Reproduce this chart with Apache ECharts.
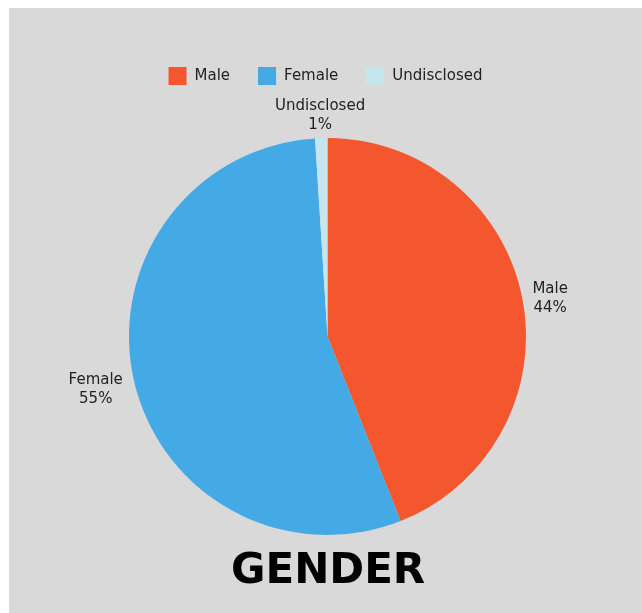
<!DOCTYPE html>
<html><head><meta charset="utf-8">
<script src="https://cdn.jsdelivr.net/npm/echarts@6/dist/echarts.min.js"></script>
<style>
html,body{margin:0;padding:0;background:#fff;width:642px;height:613px;overflow:hidden}
#c{position:absolute;left:9px;top:8px;width:633px;height:605px;background:#d9d9d9}
</style></head><body><div id="c"></div>
<script>
const categories = ['Male', 'Female', 'Undisclosed'];
const values = [44, 55, 1];
const colors = ['#f4572d', '#44aae5', '#c5e6ee'];
const titleText = 'GENDER';

const chart = echarts.init(document.getElementById('c'), null, {renderer: 'canvas'});
const font = 'DejaVu Sans';
const labelOffsets = {Male: [2, 0], Female: [-3, 9], Undisclosed: [49, -19]};
chart.setOption({
  backgroundColor: '#d9d9d9',
  animation: false,
  title: {
    text: titleText, left: 217, top: 538,
    textStyle: {fontFamily: 'DejaVu Sans', fontWeight: 'bold', fontSize: 42, color: '#000'}
  },
  legend: {
    data: categories, top: 54, left: 'center',
    itemWidth: 18, itemHeight: 18, itemGap: 28, icon: 'rect',
    textStyle: {fontFamily: font, fontSize: 15, color: '#222', padding: [0, 0, 0, 3]}
  },
  series: [{
    type: 'pie',
    center: [318.5, 328.5],
    radius: 198.5,
    startAngle: 90,
    clockwise: true,
    avoidLabelOverlap: false,
    label: {
      show: true, position: 'outside',
      formatter: '{a|{b}}\n{a|{d}%}',
      rich: {a: {align: 'center', fontFamily: font, fontSize: 15, color: '#222', lineHeight: 19}}
    },
    labelLine: {show: false, length: 3, length2: 0},
    data: categories.map((c, i) => ({
      name: c, value: values[i], itemStyle: {color: colors[i]},
      label: {offset: labelOffsets[c]}
    }))
  }]
});
</script></body></html>
